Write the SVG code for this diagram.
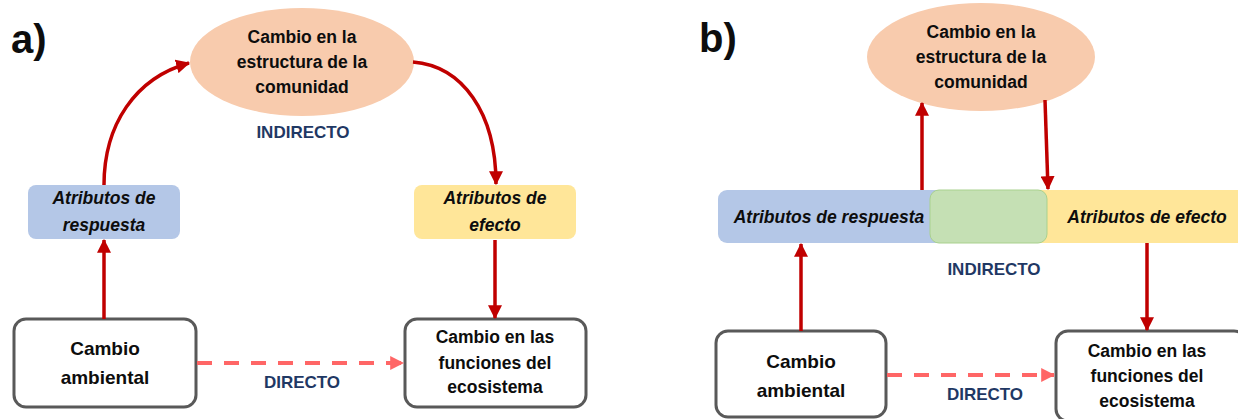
<svg xmlns="http://www.w3.org/2000/svg" width="1238" height="419" viewBox="0 0 1238 419">
<style>
text{font-family:"Liberation Sans",Arial,sans-serif;font-weight:bold;fill:#0d0d0d;text-anchor:middle}
.lbl{font-size:40px;text-anchor:start}
.ell{fill:#f8cbad}
.t16{font-size:17.5px}
.it{font-size:17.5px;font-style:italic}
.big{font-size:19px}
.mid{font-size:17.5px}
.blue{fill:#1f3864;font-size:17px}
.box{fill:#ffffff;stroke:#595959;stroke-width:3}
.red{fill:none;stroke:#c00000;stroke-width:3.5}
.dash{fill:none;stroke:#ff6666;stroke-width:4;stroke-dasharray:15 12}
</style>
<defs>
<marker id="ar" viewBox="0 0 12 12" refX="11" refY="6" markerWidth="14" markerHeight="14" markerUnits="userSpaceOnUse" orient="auto">
<path d="M0,0 L12,6 L0,12 Z" fill="#c00000"/>
</marker>
<marker id="ap" viewBox="0 0 12 12" refX="11" refY="6" markerWidth="14" markerHeight="14" markerUnits="userSpaceOnUse" orient="auto">
<path d="M0,0 L12,6 L0,12 Z" fill="#ff6666"/>
</marker>
</defs>

<text class="lbl" x="11" y="53">a)</text>
<text class="lbl" x="699" y="52">b)</text>

<!-- Panel a nodes -->
<g id="a-comunidad">
<ellipse class="ell" cx="302" cy="62" rx="112" ry="54"/>
<text class="t16" x="302" y="43">Cambio en la</text>
<text class="t16" x="302" y="68">estructura de la</text>
<text class="t16" x="302" y="93">comunidad</text>
</g>
<g id="a-respuesta">
<rect x="28" y="185" width="152" height="54" rx="8" fill="#b4c7e7"/>
<text class="it" x="104" y="204">Atributos de</text>
<text class="it" x="104" y="231">respuesta</text>
</g>
<g id="a-efecto">
<rect x="414" y="185" width="162" height="54" rx="8" fill="#ffe699"/>
<text class="it" x="495" y="204">Atributos de</text>
<text class="it" x="495" y="231">efecto</text>
</g>
<g id="a-ambiental">
<rect class="box" x="14" y="319" width="182" height="88" rx="12"/>
<text class="big" x="105" y="355">Cambio</text>
<text class="big" x="105" y="384">ambiental</text>
</g>
<g id="a-funciones">
<rect class="box" x="405" y="319" width="181" height="88" rx="12"/>
<text class="mid" x="495" y="343">Cambio en las</text>
<text class="mid" x="495" y="369">funciones del</text>
<text class="mid" x="495" y="393">ecosistema</text>
</g>
<text class="blue" x="303" y="138">INDIRECTO</text>
<text class="blue" x="302" y="388">DIRECTO</text>

<!-- Panel b nodes -->
<g id="b-comunidad">
<ellipse class="ell" cx="981" cy="57" rx="114" ry="54"/>
<text class="t16" x="981" y="38">Cambio en la</text>
<text class="t16" x="981" y="63">estructura de la</text>
<text class="t16" x="981" y="88">comunidad</text>
</g>
<g id="b-atributos">
<rect x="718" y="190" width="260" height="53" rx="9" fill="#b4c7e7"/>
<rect x="1010" y="190" width="245" height="53" rx="9" fill="#ffe699"/>
<rect x="930" y="190" width="117" height="53" rx="9" fill="#c5e0b4" stroke="#a9d18e" stroke-width="1"/>
<text class="it" x="829" y="223">Atributos de respuesta</text>
<text class="it" x="1147" y="223">Atributos de efecto</text>
</g>
<g id="b-ambiental">
<rect class="box" x="716" y="331" width="170" height="86" rx="12"/>
<text class="big" x="801" y="368">Cambio</text>
<text class="big" x="801" y="397">ambiental</text>
</g>
<g id="b-funciones">
<rect class="box" x="1056" y="331" width="190" height="90" rx="12"/>
<text class="mid" x="1147" y="357">Cambio en las</text>
<text class="mid" x="1147" y="382">funciones del</text>
<text class="mid" x="1147" y="407">ecosistema</text>
</g>
<text class="blue" x="994" y="275">INDIRECTO</text>
<text class="blue" x="985" y="400">DIRECTO</text>

<!-- connectors -->
<g id="connectors">
<path class="red" d="M104,185 C104,125 135,78 189,63" marker-end="url(#ar)"/>
<path class="red" d="M413,62 C462,66 496,112 496,184" marker-end="url(#ar)"/>
<path class="red" d="M104,319 L104,240" marker-end="url(#ar)"/>
<path class="red" d="M495,240 L495,318" marker-end="url(#ar)"/>
<path class="dash" d="M197,363 L403,363" marker-end="url(#ap)"/>
<path class="red" d="M922,190 L922,103" marker-end="url(#ar)"/>
<path class="red" d="M1045,100 L1048,189" marker-end="url(#ar)"/>
<path class="red" d="M801,331 L801,244" marker-end="url(#ar)"/>
<path class="red" d="M1147,243 L1147,330" marker-end="url(#ar)"/>
<path class="dash" d="M887,375 L1054,375" marker-end="url(#ap)"/>
</g>
</svg>
